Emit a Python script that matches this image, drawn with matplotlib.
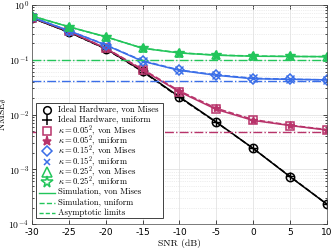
import matplotlib
matplotlib.use("Agg")
import matplotlib.pyplot as plt
from matplotlib.patches import Rectangle

plt.rcParams["mathtext.fontset"] = "cm"
plt.rcParams["font.family"] = "serif"
plt.rcParams["font.serif"] = ["cmr10", "DejaVu Serif"]
plt.rcParams["axes.formatter.use_mathtext"] = True

snr = [-30, -25, -20, -15, -10, -5, 0, 5, 10]

ideal_vm = [0.58, 0.32, 0.160, 0.062, 0.021, 0.0073, 0.0024, 0.00073, 0.00023]
ideal_uni = [0.58, 0.32, 0.158, 0.061, 0.0205, 0.0072, 0.0024, 0.00074, 0.00023]
k005_vm = [0.59, 0.33, 0.162, 0.065, 0.026, 0.0124, 0.0078, 0.0063, 0.0052]
k005_uni = [0.59, 0.33, 0.164, 0.067, 0.027, 0.0130, 0.0081, 0.0064, 0.0053]
k015_vm = [0.60, 0.34, 0.186, 0.094, 0.064, 0.052, 0.045, 0.044, 0.043]
k015_uni = [0.60, 0.34, 0.188, 0.096, 0.065, 0.053, 0.046, 0.044, 0.043]
k025_vm = [0.63, 0.40, 0.264, 0.162, 0.133, 0.121, 0.116, 0.115, 0.114]
k025_uni = [0.63, 0.40, 0.262, 0.163, 0.134, 0.122, 0.117, 0.115, 0.114]
asym = [0.0049, 0.0415, 0.101]

BLACK = "#000000"
RED = "#b8336a"
BLUE = "#3a6ee8"
GREEN = "#22c55a"

fig = plt.figure(figsize=(3.32, 2.49), dpi=100)
ax = fig.add_axes([0.096, 0.10, 0.889, 0.88])

series = [
    (ideal_vm, ideal_uni, BLACK, "o", "+", None),
    (k005_vm, k005_uni, RED, "s", "*", asym[0]),
    (k015_vm, k015_uni, BLUE, "D", "x", asym[1]),
    (k025_vm, k025_uni, GREEN, "^", "*", asym[2]),
]

for vm, uni, c, m_vm, m_uni, lim in series:
    if lim is not None:
        ax.plot([snr[0], snr[-1]], [lim, lim], color=c, lw=1.0, ls="-.")
    ax.plot(snr, vm, color=c, lw=1.1, ls="-")
    ax.plot(snr, uni, color=c, lw=1.1, ls="--")
    ms_vm = 5 if m_vm == "D" else 6
    ax.plot(snr, vm, ls="none", marker=m_vm, mfc="none", mec=c, ms=ms_vm, mew=1.1)
    ms_uni = 7.5 if (c == GREEN) else 6
    ax.plot(snr, uni, ls="none", marker=m_uni, color=c, ms=ms_uni, mew=1.0)

ax.set_yscale("log")
ax.set_xlim(-30, 10)
ax.set_ylim(1e-4, 1)
ax.set_xticks(snr)
ax.set_xticklabels([str(s) for s in snr], family="DejaVu Sans", fontsize=6.5)
ax.set_yticks([1e-4, 1e-3, 1e-2, 1e-1, 1])
ax.set_yticklabels([r"$\mathsf{10^{%d}}$" % e for e in [-4, -3, -2, -1, 0]], fontsize=7)
ax.tick_params(which="both", direction="in", top=True, right=True, length=3, width=0.5)
ax.tick_params(which="minor", length=1.5)
ax.tick_params(axis="x", pad=3)
ax.tick_params(axis="y", pad=2)
ax.grid(True, which="major", color="#dddddd", lw=0.5)
ax.grid(True, which="minor", axis="y", color="#dddddd", lw=0.5, ls=":")
for sp in ax.spines.values():
    sp.set_linewidth(0.5)
    sp.set_color("#444444")

ax.set_xlabel("SNR (dB)", fontsize=7, labelpad=1)
ax.set_ylabel(r"NMSE$_\theta$", fontsize=7)
ax.yaxis.set_label_coords(-0.076, 0.5)

# legend drawn by hand so the rows keep an even LaTeX-like spacing
leg_labels = [
    "Ideal Hardware, von Mises",
    "Ideal Hardware, uniform",
    r"$\kappa = 0.05^2$, von Mises",
    r"$\kappa = 0.05^2$, uniform",
    r"$\kappa = 0.15^2$, von Mises",
    r"$\kappa = 0.15^2$, uniform",
    r"$\kappa = 0.25^2$, von Mises",
    r"$\kappa = 0.25^2$, uniform",
    "Simulation, von Mises",
    "Simulation, uniform",
    "Asymptotic limits",
]
leg_markers = [
    ("o", BLACK, False, 5.5), ("+", BLACK, True, 6.5),
    ("s", RED, False, 5.5), ("*", RED, True, 6.5),
    ("D", BLUE, False, 5), ("x", BLUE, True, 5),
    ("^", GREEN, False, 6.5), ("*", GREEN, False, 8.5),
]
leg_lines = ["-", "--", (0, (3, 1.5))]

box = Rectangle((0.0136, 0.027), 0.43, 0.526, transform=ax.transAxes,
                facecolor="white", edgecolor="#222222", lw=0.6, zorder=10)
ax.add_patch(box)
y0, step = 0.521, 0.0471
for i, lab in enumerate(leg_labels):
    y = y0 - i * step
    if i < len(leg_markers):
        m, c, filled, ms = leg_markers[i]
        kw = dict(color=c) if filled else dict(mfc="none", mec=c)
        ax.plot([0.051], [y], ls="none", marker=m, ms=ms, mew=1.1,
                transform=ax.transAxes, zorder=11, clip_on=False, **kw)
    else:
        ax.plot([0.024, 0.078], [y, y], color=GREEN, lw=1.0,
                ls=leg_lines[i - len(leg_markers)], transform=ax.transAxes,
                zorder=11, clip_on=False)
    ax.text(0.088, y, lab, transform=ax.transAxes, fontsize=6.2,
            va="center", ha="left", zorder=11)

fig.savefig("out.png", dpi=100)
